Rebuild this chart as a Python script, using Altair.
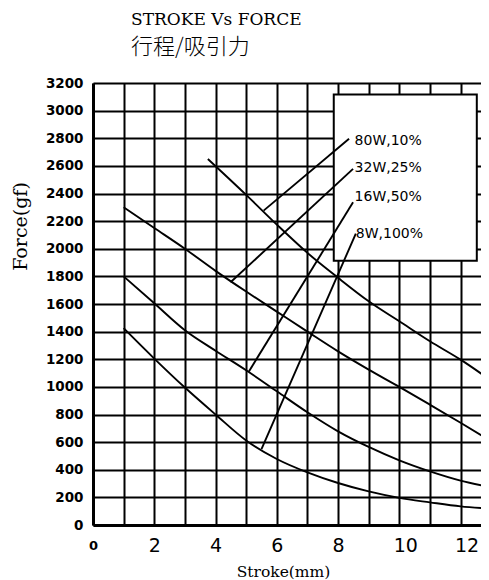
import altair as alt
import pandas as pd

# ---- data ----
title_en = "STROKE Vs FORCE"
title_zh = "行程/吸引力"

x_80w = [3.75, 5, 6, 7, 8, 9, 10, 11, 12, 13]
y_80w = [2650, 2390, 2175, 1970, 1790, 1620, 1475, 1330, 1197, 1045]
x_32w = [1, 2, 3, 4, 5, 6, 7, 8, 9, 10, 11, 12, 13]
y_32w = [2300, 2150, 2000, 1840, 1690, 1545, 1400, 1257, 1125, 1000, 871, 740, 605]
x_16w = [1, 2, 3, 4, 5, 6, 7, 8, 9, 10, 11, 12, 13]
y_16w = [1800, 1605, 1410, 1262, 1120, 968, 816, 678, 565, 468, 388, 321, 272]
x_8w = [1, 2, 3, 4, 5, 6, 7, 8, 9, 10, 11, 12, 13]
y_8w = [1425, 1205, 995, 800, 612, 478, 381, 304, 243, 196, 164, 135, 118]

labels = ["80W,10%", "32W,25%", "16W,50%", "8W,100%"]
label_x = [8.54, 8.54, 8.54, 8.58]
label_y = [2777, 2585, 2377, 2109]
leader_x1 = [8.36, 8.49, 8.49, 8.58]
leader_y1 = [2797, 2578, 2336, 2109]
leader_x2 = [5.57, 4.49, 5.09, 5.50]
leader_y2 = [2276, 1757, 1112, 550]

box_x = [7.86, 12.53]
box_y = [1914, 3116]

x_ticks = list(range(0, 13))
y_ticks = list(range(0, 3201, 200))

# ---- tables ----
rows = []
for name, xs, ys in [("80W", x_80w, y_80w), ("32W", x_32w, y_32w),
                     ("16W", x_16w, y_16w), ("8W", x_8w, y_8w)]:
    for i, (a, b) in enumerate(zip(xs, ys)):
        rows.append({"series": name, "x": a, "y": b, "o": i})
curves = pd.DataFrame(rows)
leaders = pd.DataFrame({"x": leader_x1, "y": leader_y1, "x2": leader_x2, "y2": leader_y2})
labs = pd.DataFrame({"x": label_x, "y": label_y, "t": labels})
box = pd.DataFrame({"x": [box_x[0]], "x2": [box_x[1]], "y": [box_y[0]], "y2": [box_y[1]]})

xs = alt.Scale(domain=[0, 12.667], nice=False, zero=False)
ys = alt.Scale(domain=[0, 3200], nice=False)

xaxis = alt.Axis(
    values=x_ticks,
    labelExpr="datum.value % 2 == 0 ? datum.label : ''",
    grid=True, gridColor="black", gridWidth=2, gridOpacity=1,
    ticks=False, tickSize=0,
    domainColor="black", domainWidth=3,
    labelFont="DejaVu Sans",
    labelFontSize={"condition": {"test": "datum.value == 0", "value": 13}, "value": 19},
    labelFontWeight={"condition": {"test": "datum.value == 0", "value": "bold"}, "value": "normal"},
    labelOffset={"condition": {"test": "datum.value >= 10", "value": 6}, "value": 0},
    labelColor="black", labelFlush=False, labelOverlap=False,
    labelBaseline="middle", labelPadding=20,
    title="Stroke(mm)", titleFont="DejaVu Serif", titleFontSize=15.5,
    titleFontWeight="normal", titleColor="black",
    titleX=190, titleY=46, titleBaseline="middle", titleAlign="center",
)
yaxis = alt.Axis(
    values=y_ticks, format="d",
    grid=True, gridColor="black", gridWidth=2, gridOpacity=1,
    ticks=False, tickSize=0,
    domainColor="black", domainWidth=3,
    labelFont="DejaVu Sans", labelFontSize=13.5, labelFontWeight="bold",
    labelColor="black", labelPadding=10, labelOverlap=False,
    title="Force(gf)", titleFont="DejaVu Serif", titleFontSize=19,
    titleFontWeight="normal", titleColor="black",
    titleX=-73, titleY=143, titleAngle=270,
    titleBaseline="middle", titleAlign="center",
)

lines = alt.Chart(curves).mark_line(
    color="black", strokeWidth=1.9, interpolate="monotone", clip=True
).encode(
    x=alt.X("x:Q", scale=xs, axis=xaxis),
    y=alt.Y("y:Q", scale=ys, axis=yaxis),
    detail="series:N",
    order="o:Q",
)

rect = alt.Chart(box).mark_rect(fill="white", stroke="black", strokeWidth=2).encode(
    x=alt.X("x:Q", scale=xs, axis=xaxis),
    x2="x2:Q",
    y=alt.Y("y:Q", scale=ys, axis=yaxis),
    y2="y2:Q",
)

rules = alt.Chart(leaders).mark_rule(color="black", strokeWidth=1.9).encode(
    x=alt.X("x:Q", scale=xs, axis=xaxis),
    x2="x2:Q",
    y=alt.Y("y:Q", scale=ys, axis=yaxis),
    y2="y2:Q",
)

texts = alt.Chart(labs).mark_text(
    align="left", baseline="middle", font="DejaVu Sans", fontSize=14, color="black"
).encode(
    x=alt.X("x:Q", scale=xs, axis=xaxis),
    y=alt.Y("y:Q", scale=ys, axis=yaxis),
    text="t:N",
)

t1 = alt.Chart(pd.DataFrame({"t": [title_en]})).mark_text(
    align="left", baseline="middle", font="DejaVu Serif", fontSize=17, color="black"
).encode(x=alt.value(38), y=alt.value(-63), text="t:N")

t2 = alt.Chart(pd.DataFrame({"t": [title_zh]})).mark_text(
    align="left", baseline="middle", font="Noto Sans CJK SC", fontSize=22,
    fontWeight=300, color="black"
).encode(x=alt.value(38), y=alt.value(-36), text="t:N")

chart = alt.layer(rect, lines, rules, texts, t1, t2).properties(
    width=388, height=442,
    autosize=alt.AutoSizeParams(type="none"),
    padding={"left": 85, "top": 75, "right": 0, "bottom": 55},
    background="white",
).configure_view(stroke="transparent")

chart.save("out.html", embed_options={"renderer": "svg", "actions": False})
